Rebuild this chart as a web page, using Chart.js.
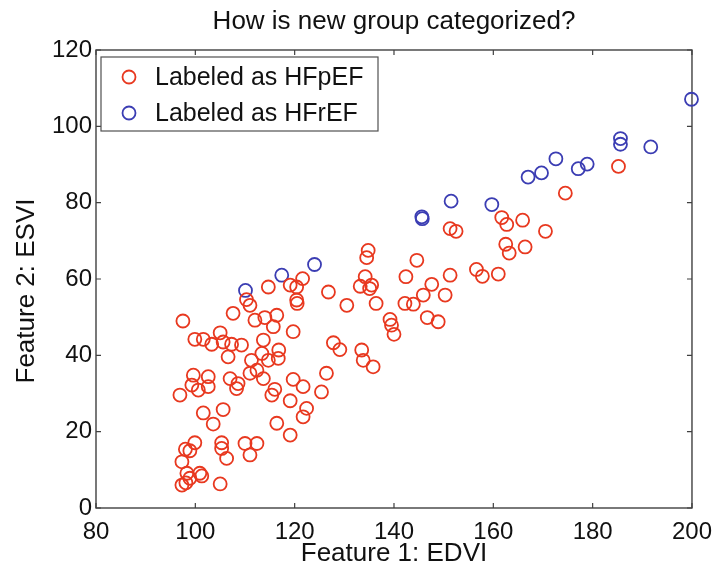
<!DOCTYPE html>
<html>
<head>
<meta charset="utf-8">
<script src="https://cdn.jsdelivr.net/npm/chart.js@4.4.1/dist/chart.umd.min.js"></script>
<style>
  html, body { margin: 0; padding: 0; background: #ffffff; }
  #wrap { width: 722px; height: 577px; }
</style>
</head>
<body>
<div id="wrap"><canvas id="c" width="722" height="577"></canvas></div>
<script>
// ---- data ----
const chartTitle = "How is new group categorized?";
const xTitle = "Feature 1: EDVI";
const yTitle = "Feature 2: ESVI";
const seriesLabels = ["Labeled as HFpEF", "Labeled as HFrEF"];
const xTicks = [80, 100, 120, 140, 160, 180, 200];
const yTicks = [0, 20, 40, 60, 80, 100, 120];

const hfpefEdvi = [
  114.7, 110.3, 111.0, 107.6, 112.0, 114.0, 115.7, 116.4, 97.5, 105.0,
  99.9, 101.6, 103.3, 105.6, 107.3, 109.3, 106.6, 113.7, 113.4, 111.3,
  114.7, 116.8, 99.6, 102.6, 99.3, 102.6, 100.6, 96.9, 107.0, 108.6,
  108.3, 111.0, 112.4, 113.7, 115.4, 116.4, 101.6, 105.6, 103.6, 99.9,
  98.0, 98.9, 97.3, 105.3, 105.3, 106.3, 110.0, 112.4, 111.0, 98.3,
  98.9, 100.9, 101.3, 97.3, 98.1, 105.0,
  134.8, 134.5, 121.6, 120.4, 119.1, 120.4, 120.5, 126.8, 130.5, 134.2,
  133.2, 135.5, 135.1, 136.4, 119.7, 116.7, 127.8, 129.1, 133.5, 133.8,
  135.8, 126.4, 119.7, 121.7, 116.0, 125.4, 119.1, 122.4, 121.7, 119.1,
  139.2, 139.5, 140.0, 146.7, 148.9,
  185.2, 174.5, 161.7, 162.7, 165.9, 151.3, 152.5, 170.5, 162.5, 163.2,
  166.4, 144.6, 142.4, 151.3, 147.6, 145.9, 150.3, 156.6, 157.8, 161.0,
  142.2, 143.9
];
const hfpefEsvi = [
  57.9, 54.6, 53.1, 51.0, 49.2, 49.9, 47.5, 50.5, 49.0, 45.9,
  44.2, 44.2, 42.9, 43.5, 42.9, 42.7, 39.6, 44.0, 40.5, 38.7,
  38.7, 41.4, 34.8, 34.4, 32.2, 31.8, 30.9, 29.6, 33.9, 32.6,
  31.3, 35.3, 36.1, 33.9, 29.6, 22.2, 24.9, 25.8, 22.0, 17.1,
  15.4, 15.0, 12.1, 17.1, 15.6, 13.0, 16.9, 16.9, 13.9, 9.1,
  7.8, 9.1, 8.4, 6.0, 6.6, 6.3,
  67.5, 65.6, 60.1, 57.9, 58.4, 54.5, 53.6, 56.6, 53.1, 60.6,
  58.1, 58.4, 57.5, 53.6, 46.2, 39.2, 43.3, 41.5, 41.4, 38.7,
  37.0, 35.3, 33.7, 31.8, 31.1, 30.4, 28.1, 26.1, 23.9, 19.1,
  49.4, 47.9, 45.5, 49.9, 48.8,
  89.5, 82.5, 76.1, 74.3, 75.4, 73.2, 72.5, 72.5, 69.1, 66.8,
  68.4, 64.9, 60.6, 61.0, 58.6, 55.8, 55.8, 62.5, 60.7, 61.3,
  53.6, 53.4
];
const hfrefEdvi = [110.1, 117.4, 124.0, 145.6, 145.7, 151.5, 159.7, 167.0, 169.7, 172.6, 177.1, 178.9, 185.6, 185.6, 191.7, 199.9];
const hfrefEsvi = [57.0, 61.0, 63.8, 76.3, 75.8, 80.4, 79.5, 86.7, 87.8, 91.5, 88.9, 90.1, 96.8, 95.3, 94.6, 107.1];

const RED = "#e8381f";
const BLUE = "#3b3db3";
const FONT = "'Liberation Sans', Arial, Helvetica, sans-serif";

function pts(xs, ys) { return xs.map((v, i) => ({ x: v, y: ys[i] })); }

// frame with inward ticks (MATLAB-like box) and the rotated y title
const framePlugin = {
  id: "frame",
  beforeDatasetsDraw(chart) {
    const { ctx, chartArea: a, scales } = chart;
    const x = scales.x, y = scales.y;
    ctx.save();
    ctx.strokeStyle = "#404040";
    ctx.lineWidth = 1.4;
    ctx.strokeRect(a.left, a.top, a.right - a.left, a.bottom - a.top);
    ctx.lineWidth = 1.2;
    ctx.beginPath();
    x.ticks.forEach(t => {
      const px = x.getPixelForValue(t.value);
      ctx.moveTo(px, a.bottom); ctx.lineTo(px, a.bottom - 5);
      ctx.moveTo(px, a.top); ctx.lineTo(px, a.top + 5);
    });
    y.ticks.forEach(t => {
      const py = y.getPixelForValue(t.value);
      ctx.moveTo(a.left, py); ctx.lineTo(a.left + 5, py);
      ctx.moveTo(a.right, py); ctx.lineTo(a.right - 5, py);
    });
    ctx.stroke();
    // y axis title, slightly below the plot's centre as in the source
    ctx.translate(27, (a.top + a.bottom) / 2 + 12);
    ctx.rotate(-Math.PI / 2);
    ctx.font = "26px " + FONT;
    ctx.fillStyle = "#111111";
    ctx.textAlign = "center";
    ctx.textBaseline = "middle";
    ctx.fillText(yTitle, 0, 0);
    ctx.restore();
  }
};

// boxed legend inside the plot area, upper left
const boxLegend = {
  id: "boxLegend",
  afterDatasetsDraw(chart) {
    const { ctx, chartArea: a } = chart;
    const left = a.left + 5, top = a.top + 7, w = 277, h = 74;
    ctx.save();
    ctx.fillStyle = "#ffffff";
    ctx.fillRect(left, top, w, h);
    ctx.strokeStyle = "#505050";
    ctx.lineWidth = 1.2;
    ctx.strokeRect(left, top, w, h);
    ctx.font = "25px " + FONT;
    ctx.textBaseline = "middle";
    ctx.textAlign = "left";
    chart.data.datasets.forEach((ds, i) => {
      const cy = top + 20 + i * 36;
      ctx.beginPath();
      ctx.strokeStyle = ds.borderColor;
      ctx.lineWidth = 1.8;
      ctx.arc(left + 28, cy, 6.5, 0, Math.PI * 2);
      ctx.stroke();
      ctx.fillStyle = "#111111";
      ctx.fillText(ds.label, left + 54, cy + 1);
    });
    ctx.restore();
  }
};

new Chart(document.getElementById("c"), {
  type: "scatter",
  data: {
    datasets: [
      { label: seriesLabels[0], data: pts(hfpefEdvi, hfpefEsvi), borderColor: RED, backgroundColor: "rgba(0,0,0,0)", pointRadius: 6.5, pointBorderWidth: 1.8, pointHoverRadius: 6.5, clip: false },
      { label: seriesLabels[1], data: pts(hfrefEdvi, hfrefEsvi), borderColor: BLUE, backgroundColor: "rgba(0,0,0,0)", pointRadius: 6.5, pointBorderWidth: 1.8, pointHoverRadius: 6.5, clip: false }
    ]
  },
  options: {
    responsive: false,
    animation: false,
    devicePixelRatio: 1,
    layout: { padding: { left: 0, right: 30, top: 0, bottom: 0 } },
    plugins: {
      legend: { display: false },
      tooltip: { enabled: false },
      title: {
        display: true,
        fullSize: false,
        text: chartTitle,
        color: "#111111",
        font: { family: FONT, size: 26, weight: "normal" },
        padding: { top: 6, bottom: 12.8 }
      }
    },
    scales: {
      x: {
        type: "linear",
        min: 80, max: 200,
        afterBuildTicks(s) { s.ticks = xTicks.map(v => ({ value: v })); },
        afterFit(s) { s.height = 69; },
        grid: { display: false, drawTicks: false },
        border: { display: false },
        ticks: { color: "#111111", font: { family: FONT, size: 24 }, padding: 10, maxRotation: 0 },
        title: { display: true, text: xTitle, color: "#111111", font: { family: FONT, size: 26 }, padding: { top: 0, bottom: 8 } }
      },
      y: {
        type: "linear",
        min: 0, max: 120,
        afterBuildTicks(s) { s.ticks = yTicks.map(v => ({ value: v })); },
        afterFit(s) { s.width = 96; },
        grid: { display: false, drawTicks: false },
        border: { display: false },
        ticks: { color: "#111111", font: { family: FONT, size: 24 }, padding: 4 },
        title: { display: false }
      }
    }
  },
  plugins: [framePlugin, boxLegend]
});
</script>
</body>
</html>
